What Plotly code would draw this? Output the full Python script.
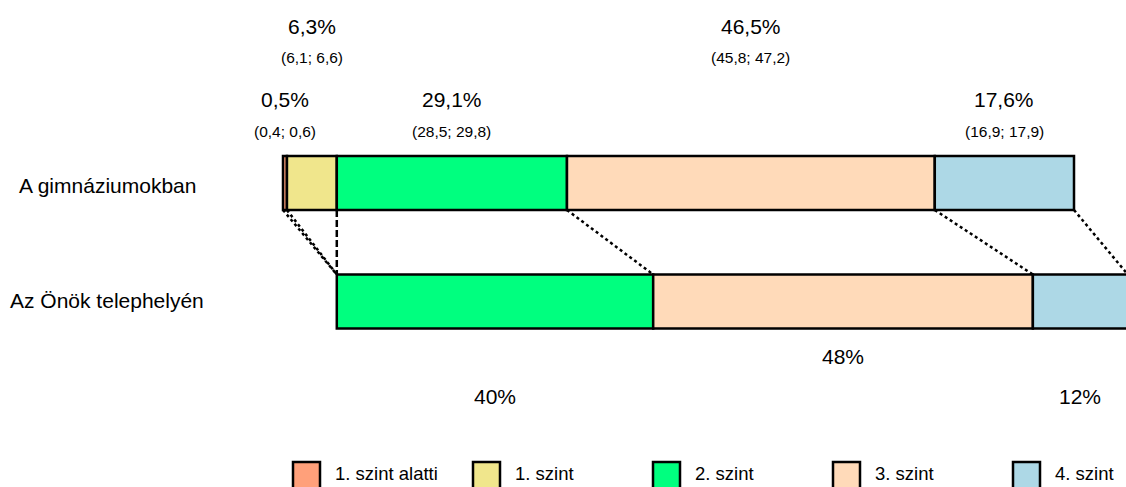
import plotly.graph_objects as go

# ---------------- data ----------------
categories = ["1. szint alatti", "1. szint", "2. szint", "3. szint", "4. szint"]
colors = ["#FFA07A", "#F0E68C", "#00FF7F", "#FFDAB9", "#ADD8E6"]
group_labels = ["A gimnáziumokban", "Az Önök telephelyén"]
national_values = [0.5, 6.3, 29.1, 46.5, 17.6]
national_ci_low = [0.4, 6.1, 28.5, 45.8, 16.9]
national_ci_high = [0.6, 6.6, 29.8, 47.2, 17.9]
site_values = [None, None, 40, 48, 12]

# ---------------- layout geometry (pixels) ----------------
W, H = 1126, 487
PX_PER_PCT = 7.91
X0_PX = 283
UNIT_PX = 118.5
TOP_CENTER_PX = 183.0
BOTTOM_CENTER_PX = TOP_CENTER_PX + UNIT_PX
BAR_W = 54 / UNIT_PX
FONT = "Liberation Sans, Arial, sans-serif"

x_range = [-X0_PX / PX_PER_PCT, (W - X0_PX) / PX_PER_PCT]
y_range = [-(H - BOTTOM_CENTER_PX) / UNIT_PX, 1 + TOP_CENTER_PX / UNIT_PX]


def py(p):
    return 1 - p / H


def px(p):
    return p / W


def fmt(v):
    return f"{v:.1f}".replace(".", ",")


# cumulative bases
nat_base = []
acc = 0.0
for v in national_values:
    nat_base.append(acc)
    acc += v
nat_edges = nat_base + [acc]

first_present = next(i for i, v in enumerate(site_values) if v is not None)
site_start = nat_base[first_present]
site_base = []
acc = site_start
for v in site_values:
    site_base.append(acc)
    if v is not None:
        acc += v
site_edges = site_base + [acc]

fig = go.Figure()

# connector lines
for k in range(len(nat_edges)):
    same = abs(nat_edges[k] - site_edges[k]) < 1e-9
    fig.add_trace(go.Scatter(
        x=[nat_edges[k], site_edges[k]], y=[1 - BAR_W / 2, BAR_W / 2],
        mode="lines", showlegend=False, hoverinfo="skip",
        line=dict(color="black", width=2.5, dash="7px,3px" if same else "dot"),
    ))

# bars
for i, name in enumerate(categories):
    fig.add_trace(go.Bar(
        name=name, orientation="h",
        y=[1, 0], x=[national_values[i], site_values[i]],
        base=[nat_base[i], site_base[i]],
        width=BAR_W,
        marker=dict(color=colors[i], line=dict(color="black", width=2.5)),
        showlegend=False,
    ))

ann = []
# top-bar labels
for i, v in enumerate(national_values):
    cx = nat_base[i] + v / 2
    far = i % 2 == 1
    vy, cy = (26, 57) if far else (100, 131)
    ann.append(dict(x=cx, y=py(vy), xref="x", yref="paper", text=f"{fmt(v)}%",
                    showarrow=False, font=dict(size=21, color="black", family=FONT),
                    xanchor="center", yanchor="middle"))
    ann.append(dict(x=cx, y=py(cy), xref="x", yref="paper",
                    text=f"({fmt(national_ci_low[i])}; {fmt(national_ci_high[i])})",
                    showarrow=False, font=dict(size=15.5, color="black", family=FONT),
                    xanchor="center", yanchor="middle"))

# bottom-bar labels
j = 0
for i, v in enumerate(site_values):
    if v is None:
        continue
    cx = site_base[i] + v / 2
    far = j % 2 == 0
    vy = 396 if far else 356
    ann.append(dict(x=cx, y=py(vy), xref="x", yref="paper", text=f"{v:g}%",
                    showarrow=False, font=dict(size=21, color="black", family=FONT),
                    xanchor="center", yanchor="middle"))
    j += 1

# category labels
for lbl, cy in zip(group_labels, [185.5, 300.5]):
    ann.append(dict(x=px(107), y=py(cy), xref="paper", yref="paper", text=lbl,
                    showarrow=False, font=dict(size=21, color="black", family=FONT),
                    xanchor="center", yanchor="middle"))

# legend (drawn)
shapes = []
for i, name in enumerate(categories):
    left = 293 + 180 * i
    shapes.append(dict(type="rect", xref="paper", yref="paper",
                       x0=px(left), x1=px(left + 27), y0=py(493), y1=py(462),
                       fillcolor=colors[i], line=dict(color="black", width=2.5)))
    ann.append(dict(x=px(left + 40), y=py(473), xref="paper", yref="paper", text=name,
                    showarrow=False, font=dict(size=18.5, color="black", family=FONT),
                    xanchor="left", yanchor="middle"))

fig.update_layout(
    width=W, height=H,
    margin=dict(l=0, r=0, t=0, b=0),
    paper_bgcolor="white", plot_bgcolor="white",
    barmode="overlay",
    xaxis=dict(range=x_range, visible=False, fixedrange=True),
    yaxis=dict(range=y_range, visible=False, fixedrange=True),
    annotations=ann, shapes=shapes,
    showlegend=False,
)

fig.write_html("out.html", config={"displayModeBar": False},
               post_script="document.body.style.margin='0';document.body.style.overflow='hidden';")
